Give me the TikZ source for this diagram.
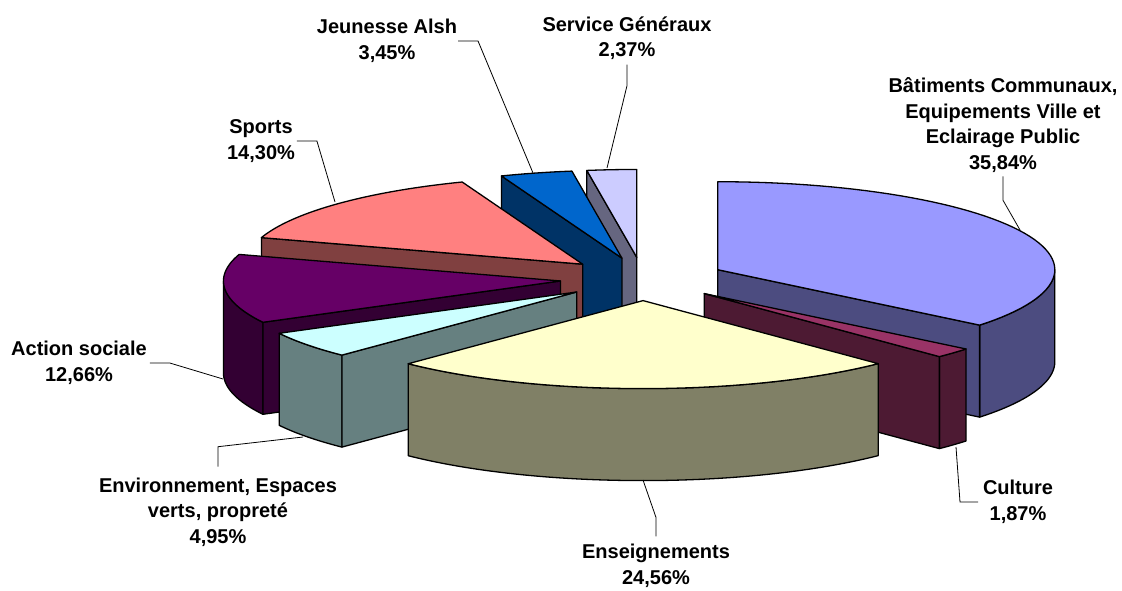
\documentclass[tikz,border=0pt]{standalone}
\usepackage{tikz}
\usepackage{fontspec}
\setmainfont{Liberation Sans}
\definecolor{batT}{HTML}{9999FF}\definecolor{batS}{HTML}{4C4C80}
\definecolor{culT}{HTML}{993366}\definecolor{culS}{HTML}{4D1A33}
\definecolor{ensT}{HTML}{FFFFCC}\definecolor{ensS}{HTML}{808066}
\definecolor{envT}{HTML}{CCFFFF}\definecolor{envS}{HTML}{668080}
\definecolor{actT}{HTML}{660066}\definecolor{actS}{HTML}{330033}
\definecolor{spoT}{HTML}{FF8080}\definecolor{spoS}{HTML}{804040}
\definecolor{jeuT}{HTML}{0066CC}\definecolor{jeuS}{HTML}{003366}
\definecolor{serT}{HTML}{CCCCFF}\definecolor{serS}{HTML}{666680}
\newcommand\pieslice[4]{%
  \pgfmathsetmacro\sMid{(#1+#2)/2}%
  \pgfmathsetmacro\cX{643+82.9*sin(\sMid)}%
  \pgfmathsetmacro\cY{279-21.6*cos(\sMid)}%
  \pgfmathsetmacro\wA{max(#1,90)}%
  \pgfmathsetmacro\wB{min(#2,270)}%
  \pgfmathsetmacro\sinA{sin(#1)}%
  \pgfmathsetmacro\sinB{sin(#2)}%
  \ifdim\wA pt<\wB pt
    \filldraw[slice, fill=#4] plot[domain=\wA:\wB, samples=60] ({\cX+337*sin(\x)},{\cY-88*cos(\x)})
      -- plot[domain=\wB:\wA, samples=60] ({\cX+337*sin(\x)},{\cY+92-88*cos(\x)}) -- cycle;
  \fi
  \ifdim\sinA pt<-0.01pt
    \filldraw[slice, fill=#4] ({\cX},{\cY}) -- ({\cX+337*sin(#1)},{\cY-88*cos(#1)}) -- ++(0,92) -- ({\cX},{\cY+92}) -- cycle;
  \fi
  \ifdim\sinB pt>0.01pt
    \filldraw[slice, fill=#4] ({\cX},{\cY}) -- ({\cX+337*sin(#2)},{\cY-88*cos(#2)}) -- ++(0,92) -- ({\cX},{\cY+92}) -- cycle;
  \fi
  \filldraw[slice, fill=#3] ({\cX},{\cY}) -- plot[domain=#1:#2, samples=60] ({\cX+337*sin(\x)},{\cY-88*cos(\x)}) -- cycle;
}
\begin{document}
\begin{tikzpicture}[x=1pt,y=-1pt,
  slice/.style={draw=black, line width=1.3pt, line join=round},
  lab/.style={font=\bfseries\fontsize{20}{25.5}\selectfont, align=center, inner sep=0pt, outer sep=0pt},
  leader/.style={draw=black, line width=0.8pt}]
\useasboundingbox (0,0) rectangle (1122,590);
% slices, back to front
\pieslice{351.468}{360}{serT}{serS}
\pieslice{339.048}{351.468}{jeuT}{jeuS}
\pieslice{287.568}{339.048}{spoT}{spoS}
\pieslice{0}{129.024}{batT}{batS}
\pieslice{241.992}{287.568}{actT}{actS}
\pieslice{129.024}{135.756}{culT}{culS}
\pieslice{224.172}{241.992}{envT}{envS}
\pieslice{135.756}{224.172}{ensT}{ensS}
% labels
\node[lab] (jl) at (387,41) {Jeunesse Alsh\\3,45\%};
\node[lab] (sl) at (627,38) {Service Généraux\\2,37\%};
\node[lab] (spl) at (261,141) {Sports\\14,30\%};
\node[lab] (bl) at (1003,125) {Bâtiments Communaux,\\Equipements Ville et\\Eclairage Public\\35,84\%};
\node[lab] (al) at (79,363) {Action sociale\\12,66\%};
\node[lab] (evl) at (218,512) {Environnement, Espaces\\verts, propreté\\4,95\%};
\node[lab] (el) at (656,566) {Enseignements\\24,56\%};
\node[lab] (cl) at (1018,502) {Culture\\1,87\%};
% leader end points on the slices
\coordinate (je) at (533,173);
\coordinate (se) at (607,168);
\coordinate (spe) at (335,202);
\coordinate (be) at (1020,230);
\coordinate (ce) at (956,447);
\coordinate (ee) at (643,480);
\coordinate (eve) at (303,437);
\coordinate (ae) at (223,379);
% leaders
\draw[leader] ([xshift=1pt]jl.east) -- ++(20,0) -- (je);
\draw[leader] ([yshift=-5pt]sl.south) -- ++(0,21) -- (se);
\draw[leader] ([xshift=2pt]spl.east) -- ++(20,0) -- (spe);
\draw[leader] ([yshift=-4pt]bl.south) -- ++(0,24) -- (be);
\draw[leader] ([xshift=-5pt]cl.west) -- ++(-18,0) -- (ce);
\draw[leader] ([yshift=8pt]el.north) -- ++(0,-19) -- (ee);
\draw[leader] ([yshift=11pt]evl.north) -- ++(0,-20) -- (eve);
\draw[leader] ([xshift=3pt]al.east) -- ++(20,0) -- (ae);
\end{tikzpicture}
\end{document}
